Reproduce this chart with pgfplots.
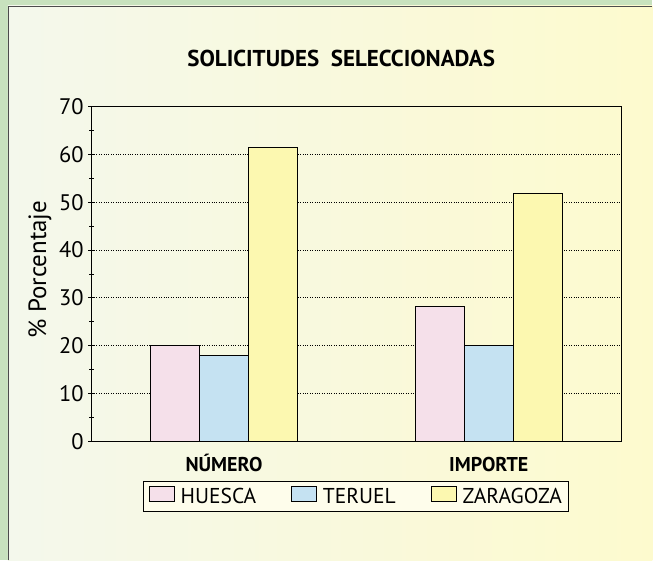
\documentclass[border=0pt]{standalone}
\usepackage{pgfplots}
\pgfplotsset{compat=1.18}
\usepackage{fontspec}
\setmainfont{PT Sans}
\definecolor{frameg}{RGB}{200,226,190}
\definecolor{bgl}{RGB}{244,248,236}
\definecolor{bgr}{RGB}{253,250,206}
\definecolor{cpink}{RGB}{245,224,234}
\definecolor{cblue}{RGB}{197,226,242}
\definecolor{cyell}{RGB}{252,248,176}
\begin{document}
\begin{tikzpicture}[x=1pt,y=1pt]
\fill[frameg] (0,0) rectangle (653,561);
\fill[left color=bgl,right color=bgr] (8,0) rectangle (653,555);
\draw[black!70,line width=1.2pt] (8.6,0) -- (8.6,554.4) -- (653,554.4);
\node[font=\fontsize{23}{27}\selectfont\bfseries] at (341.5,502) {SOLICITUDES\ \ SELECCIONADAS};
\begin{axis}[
  at={(91.7pt,119.3pt)}, anchor=south west,
  scale only axis, width=530pt, height=335pt,
  xmin=-0.5, xmax=1.5, ymin=0, ymax=70,
  ytick={0,10,...,70}, minor ytick={5,15,...,65},
  ytick pos=left, xtick pos=bottom,
  tick align=center,
  major tick length=7pt, minor tick length=5pt,
  xtick={0,1}, xticklabels={NÚMERO,IMPORTE},
  x tick style={draw=none},
  extra x ticks={0.5}, extra x tick labels={},
  extra x tick style={major tick length=7pt, tick style={draw=black}},
  tick style={black, line width=0.8pt},
  axis line style={line width=0.9pt},
  ymajorgrids, major grid style={dotted, black, line width=0.9pt},
  /pgf/number format/assume math mode=true,
  yticklabel style={font=\fontsize{22.5}{26}\selectfont, xshift=-1pt},
  xticklabel style={font=\fontsize{20}{24}\selectfont\bfseries, anchor=base, yshift=-23pt},
  ylabel={\% Porcentaje},
  ylabel style={font=\fontsize{25}{29}\selectfont, at={(axis description cs:-0.0975,0.5125)}, anchor=center},
  ybar=0pt, bar width=49pt,
  legend columns=3,
  legend style={at={(axis description cs:0.5,-0.12)}, anchor=north, draw=black, line width=1pt,
    font=\fontsize{21.5}{25}\selectfont, fill=white!60!bgr, inner xsep=5pt, inner ysep=4.5pt,
    /tikz/every odd column/.append style={column sep=4pt},
    /tikz/every even column/.append style={column sep=33pt}},
  legend image code/.code={\draw[#1,draw=black,line width=0.8pt] (0pt,-5pt) rectangle (25pt,10pt);},
]
\addplot[fill=cpink, draw=black, line width=0.9pt] coordinates {(0,20.0) (1,28.2)};
\addplot[fill=cblue, draw=black, line width=0.9pt] coordinates {(0,18.0) (1,20.0)};
\addplot[fill=cyell, draw=black, line width=0.9pt] coordinates {(0,61.5) (1,51.8)};
\legend{HUESCA,TERUEL,ZARAGOZA}
\end{axis}
\end{tikzpicture}
\end{document}
